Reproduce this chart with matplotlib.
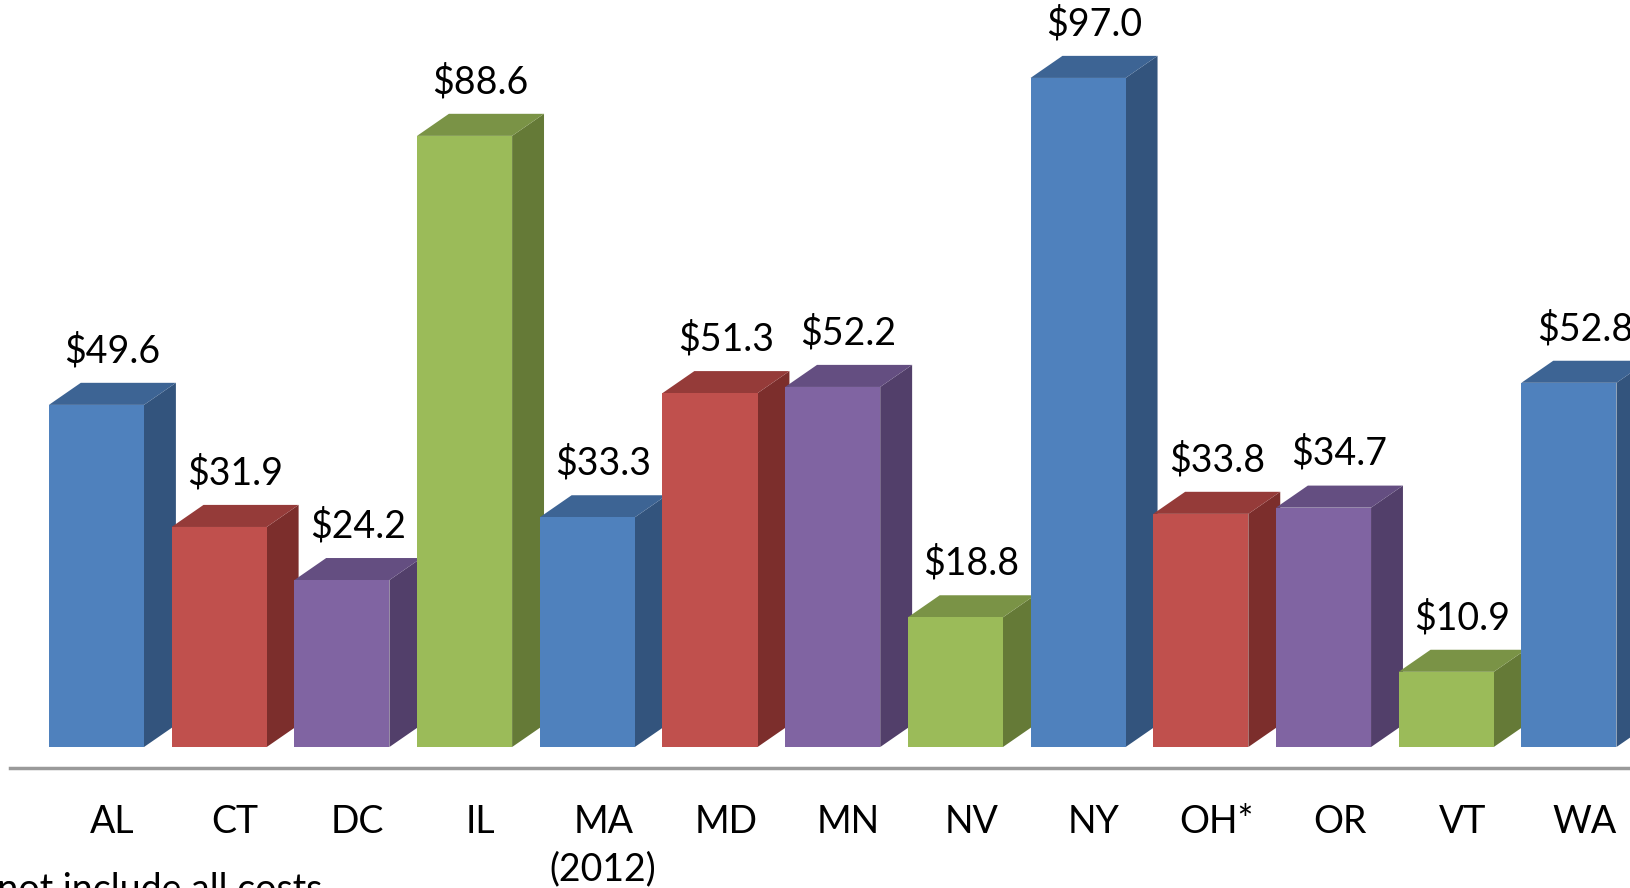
import matplotlib.pyplot as plt
from matplotlib.patches import Polygon

# data
states = ["AL", "CT", "DC", "IL", "MA\n(2012)", "MD", "MN", "NV", "NY", "OH*", "OR", "VT", "WA"]
values = [49.6, 31.9, 24.2, 88.6, 33.3, 51.3, 52.2, 18.8, 97.0, 33.8, 34.7, 10.9, 52.8]
front_colors = ["#4F81BD", "#C0504D", "#8064A2", "#9BBB59"]
top_colors = ["#3D6494", "#953B39", "#644E81", "#7A9346"]
side_colors = ["#33547D", "#7C2E2C", "#523F6A", "#657A37"]

plt.rcParams["font.family"] = ["Lato", "DejaVu Sans"]

fig = plt.figure(figsize=(16.31, 8.88), dpi=100)
ax = fig.add_axes([0, 0, 1, 1])
ax.set_xlim(-0.786, 12.506)
ax.set_ylim(-20.44, 108.3)
ax.axis("off")

w = 0.775   # bar width
dx = 0.26   # 3d depth in x
dy = 3.2    # 3d depth in y

for i, (s, v) in enumerate(zip(states, values)):
    k = i % 4
    x0 = i - w / 2
    x1 = i + w / 2
    ax.bar(i, v, width=w, color=front_colors[k], linewidth=0, zorder=3)
    ax.add_patch(Polygon([(x1, 0), (x1 + dx, dy), (x1 + dx, v + dy), (x1, v)],
                         closed=True, facecolor=side_colors[k], linewidth=0, zorder=2))
    ax.add_patch(Polygon([(x0, v), (x0 + dx, v + dy), (x1 + dx, v + dy), (x1, v)],
                         closed=True, facecolor=top_colors[k], linewidth=0, zorder=2))
    ax.text(i + dx / 2, v + dy + 3.0, f"${v:.1f}", ha="center", va="baseline",
            fontsize=27, color="black")
    ax.text(i + dx / 2, -8.2, s, ha="center", va="top", fontsize=27,
            color="black", linespacing=1.4)

ax.axhline(-3.0, xmin=10 / 1631, xmax=1, color="#9A9A9A", linewidth=2.5)

# footnote, cut off at the bottom edge as in the source image
fig.text(322 / 1631, -20 / 888, "May not include all costs", ha="right", va="bottom",
         fontsize=27, color="black")

fig.savefig("out.png", dpi=100)
